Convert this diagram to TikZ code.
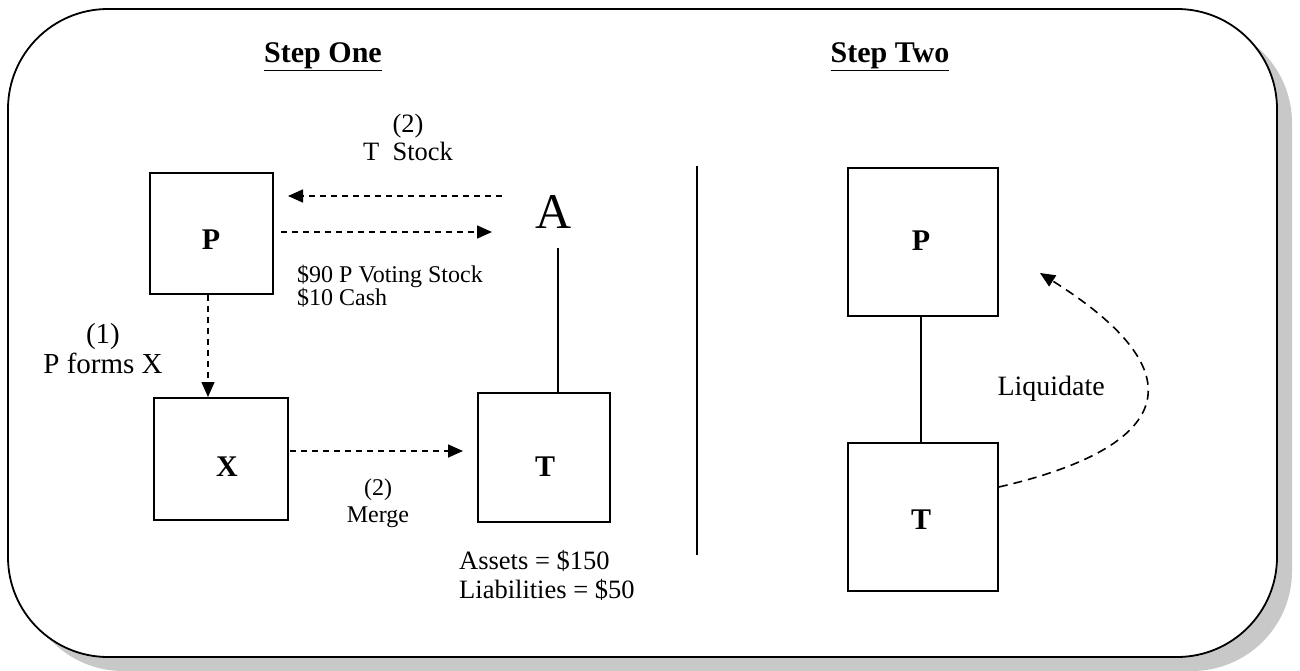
\documentclass[tikz,border=0pt]{standalone}
\usepackage{fontspec}
\setmainfont{Liberation Serif}
\usetikzlibrary{arrows.meta}
\definecolor{shadowgray}{RGB}{200,200,200}
\tikzset{
  box/.style={draw, line width=1.6pt, minimum width=#1, inner sep=0pt},
  boxlbl/.style={font=\fontsize{30}{30}\selectfont\bfseries, inner sep=0pt},
  lbl/.style={font=\fontsize{24}{23}\selectfont, align=center, inner sep=0pt},
  head/.style={font=\fontsize{30}{30}\selectfont\bfseries, inner sep=0pt},
  darr/.style={line width=1.6pt, dash pattern=on 6pt off 5pt, -{Triangle[length=15pt,width=13pt]}},
  solidline/.style={line width=1.6pt},
}
\begin{document}
\begin{tikzpicture}[x=1pt,y=-1pt]
\useasboundingbox (0,0) rectangle (1300,671);
% outer frame with shadow
\fill[shadowgray, rounded corners=100pt] (23,23) rectangle (1292,671);
\draw[fill=white, line width=1.8pt, rounded corners=100pt] (8,9) rectangle (1277,657);
% headers
\node[head] (h1) at (323,57) {\underline{Step One}};
\node[head] (h2) at (890,57) {\underline{Step Two}};
% step one boxes
\node[box=123pt, minimum height=121pt] (P) at (211.5,233.5) {};
\node[boxlbl] (Pl) at (211,240) {P};
\node[box=134pt, minimum height=122pt] (X) at (221,459) {};
\node[boxlbl] (Xl) at (227,467) {X};
\node[box=132pt, minimum height=129pt] (T) at (544,457.5) {};
\node[boxlbl] (Tl) at (545,467) {T};
\node[font=\fontsize{50}{50}\selectfont, inner sep=0pt] (A) at (554,212) {A};
\coordinate (Abot) at (558,248);
\draw[solidline] (Abot) -- (Abot |- T.north);
% arrows P <-> A
\coordinate (a1s) at (502,196);
\coordinate (a1e) at (288,196);
\coordinate (a2s) at (281,232);
\coordinate (a2e) at (492,232);
\draw[darr] (a1s) -- (a1e);
\draw[darr] (a2s) -- (a2e);
\node[lbl, font=\fontsize{26.5}{28}\selectfont] (l2) at (408,137) {(2)\\T\ \ Stock};
\node[lbl, anchor=west, align=left] (lv) at (297,286) {\$90 P Voting Stock\\\$10 Cash};
% P forms X
\draw[darr] (208,294.5) -- (208,397);
\node[lbl, font=\fontsize{29}{30}\selectfont] (l1) at (103,349) {(1)\\P forms X};
% merge
\coordinate (ms) at (290,451);
\coordinate (me) at (463,451);
\draw[darr] (ms) -- (me);
\node[lbl, font=\fontsize{24}{27}\selectfont] (lm) at (378,503) {(2)\\Merge};
\node[lbl, font=\fontsize{26.5}{29}\selectfont, align=left, anchor=north west] (la) at (459,550) {Assets = \$150\\Liabilities = \$50};
% divider
\draw[solidline] (697,166) -- (697,555);
% step two
\node[box=150pt, minimum height=148pt] (P2) at (923,242) {};
\node[boxlbl] (P2l) at (921,241) {P};
\node[box=150pt, minimum height=148pt] (T2) at (923,517) {};
\node[boxlbl] (T2l) at (921,520) {T};
\draw[solidline] (P2l |- P2.south) -- (P2l |- T2.north);
\coordinate (lq) at (1040,273);
\draw[line width=1.6pt, dash pattern=on 9pt off 6pt, -{Triangle[length=15pt,width=13pt]}]
  (T2.east |- 0,487) .. controls (1160,450) and (1210,380) .. (lq);
\node[font=\fontsize{28}{28}\selectfont, inner sep=0pt, anchor=east] (liq) at (1105,389) {Liquidate};
\end{tikzpicture}
\end{document}
